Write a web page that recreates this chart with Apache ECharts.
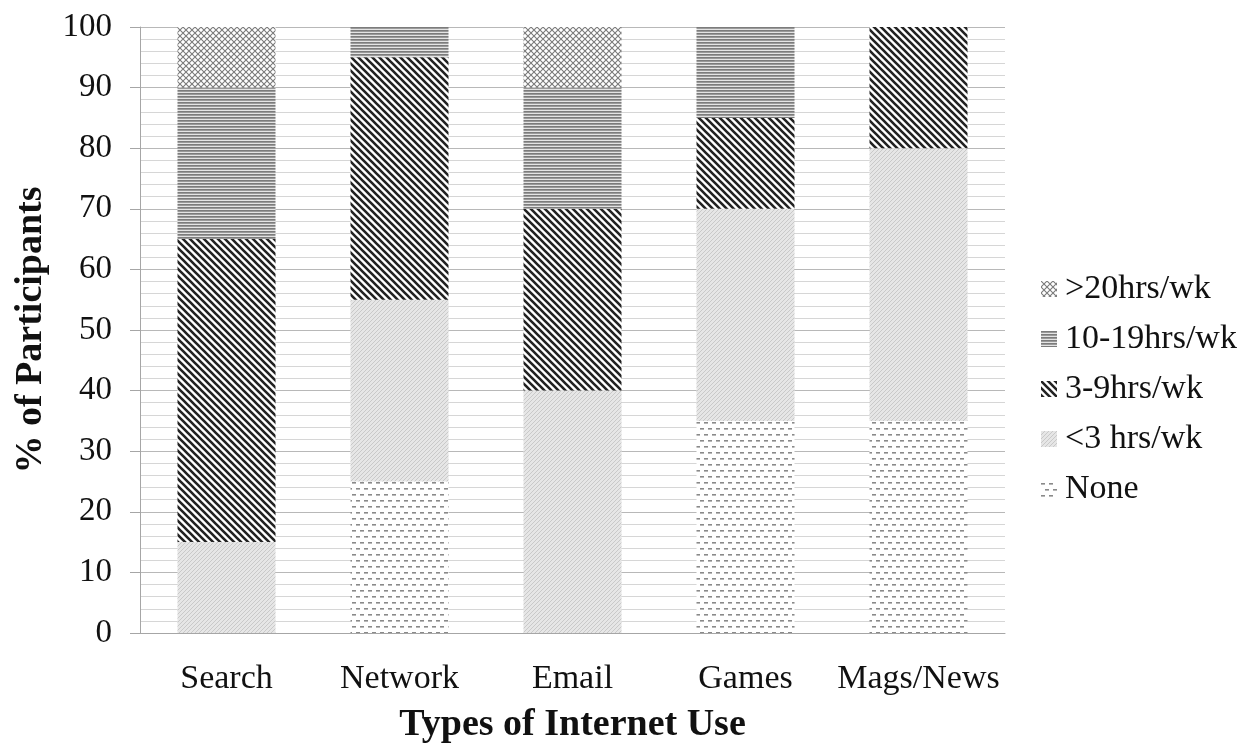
<!DOCTYPE html>
<html>
<head>
<meta charset="utf-8">
<script src="https://cdn.jsdelivr.net/npm/echarts@6/dist/echarts.min.js"></script>
<style>
html,body{margin:0;padding:0;background:#fff;}
#chart{width:1256px;height:747px;}
</style>
</head>
<body>
<div id="chart"></div>
<script>
// ---- data ----
const categories = ['Search', 'Network', 'Email', 'Games', 'Mags/News'];
const seriesNames = ['None', '<3 hrs/wk', '3-9hrs/wk', '10-19hrs/wk', '>20hrs/wk'];
const noneVals   = [0, 25, 0, 35, 35];
const lt3Vals    = [15, 30, 40, 35, 45];
const h3to9Vals  = [50, 40, 30, 15, 20];
const h10to19Vals= [25, 5, 20, 15, 0];
const gt20Vals   = [10, 0, 10, 0, 0];
const yTicks = [0, 10, 20, 30, 40, 50, 60, 70, 80, 90, 100];

// ---- patterns ----
function makeTile(w, h, draw) {
  const c = document.createElement('canvas');
  c.width = w; c.height = h;
  const ctx = c.getContext('2d');
  draw(ctx, w, h);
  return { image: c, repeat: 'repeat' };
}
const patGt20 = makeTile(6, 6, (ctx, w, h) => {
  ctx.fillStyle = '#ffffff'; ctx.fillRect(0, 0, w, h);
  ctx.strokeStyle = '#7a7a7a'; ctx.lineWidth = 1.1;
  ctx.beginPath();
  ctx.moveTo(0, 0); ctx.lineTo(w, h);
  ctx.moveTo(w, 0); ctx.lineTo(0, h);
  ctx.stroke();
});
const pat10to19 = makeTile(4, 3, (ctx, w, h) => {
  ctx.fillStyle = '#7c7c7c'; ctx.fillRect(0, 0, w, 1);
  ctx.fillStyle = '#9a9a9a'; ctx.fillRect(0, 1, w, 1);
  ctx.fillStyle = '#e4e4e4'; ctx.fillRect(0, 2, w, 1);
});
const pat3to9 = makeTile(7, 7, (ctx, w, h) => {
  ctx.fillStyle = '#ffffff'; ctx.fillRect(0, 0, w, h);
  ctx.strokeStyle = '#222222'; ctx.lineWidth = 2.6;
  ctx.beginPath();
  ctx.moveTo(-1, -1); ctx.lineTo(w + 1, h + 1);
  ctx.moveTo(-1, h - 1); ctx.lineTo(1, h + 1);
  ctx.moveTo(w - 1, -1); ctx.lineTo(w + 1, 1);
  ctx.stroke();
});
const patLt3 = makeTile(4, 4, (ctx, w, h) => {
  ctx.fillStyle = '#e6e6e6'; ctx.fillRect(0, 0, w, h);
  ctx.strokeStyle = '#c9c9c9'; ctx.lineWidth = 1;
  ctx.beginPath();
  ctx.moveTo(-1, h + 1); ctx.lineTo(w + 1, -1);
  ctx.stroke();
});
const patNone = makeTile(8, 12, (ctx, w, h) => {
  ctx.fillStyle = '#ffffff'; ctx.fillRect(0, 0, w, h);
  ctx.fillStyle = '#8a8a8a';
  ctx.fillRect(0, 2, 4, 1.6);
  ctx.fillRect(4, 8, 4, 1.6);
});
const patterns = [patNone, patLt3, pat3to9, pat10to19, patGt20];
const valueSets = [noneVals, lt3Vals, h3to9Vals, h10to19Vals, gt20Vals];

const FONT = "'Liberation Serif', 'Times New Roman', serif";

const chart = echarts.init(document.getElementById('chart'), null, { renderer: 'canvas' });
chart.setOption({
  animation: false,
  backgroundColor: '#ffffff',
  grid: { left: 140, right: 251, top: 27, bottom: 114, containLabel: false, outerBoundsMode: 'none' },
  legend: {
    orient: 'vertical',
    left: 1036,
    top: 267,
    itemWidth: 16,
    itemHeight: 16,
    itemGap: 16,
    icon: 'rect',
    data: seriesNames.slice().reverse(),
    textStyle: { fontFamily: FONT, fontSize: 34, color: '#111', lineHeight: 34, padding: [0, 0, 0, 3] }
  },
  xAxis: {
    type: 'category',
    data: categories,
    name: 'Types of Internet Use',
    nameLocation: 'middle',
    nameGap: 73,
    nameTextStyle: { fontFamily: FONT, fontSize: 38, fontWeight: 'bold', color: '#111' },
    axisLine: { show: true, lineStyle: { color: '#a6a6a6', width: 1 } },
    axisTick: { show: false },
    axisLabel: { fontFamily: FONT, fontSize: 34, color: '#111', margin: 29, interval: 0 }
  },
  yAxis: {
    type: 'value',
    min: 0, max: 100, interval: 10,
    name: '% of Participants',
    nameLocation: 'middle',
    nameGap: 90,
    nameRotate: 90,
    nameTextStyle: { fontFamily: FONT, fontSize: 38, fontWeight: 'bold', color: '#111' },
    axisLine: { show: true, lineStyle: { color: '#a6a6a6', width: 1 } },
    axisTick: { show: true, length: 10, lineStyle: { color: '#a6a6a6' } },
    axisLabel: {
      fontFamily: FONT, fontSize: 33, color: '#111', margin: 28,
      formatter: v => (yTicks.indexOf(v) >= 0 ? String(v) : '')
    },
    splitLine: { show: true, lineStyle: { color: '#b8b8b8', width: 1 } },
    minorTick: { show: false, splitNumber: 5 },
    minorSplitLine: { show: true, lineStyle: { color: '#d6d6d6', width: 1 } }
  },
  series: seriesNames.map((name, i) => ({
    name: name,
    type: 'bar',
    stack: 'total',
    barWidth: 98,
    data: valueSets[i],
    itemStyle: { color: patterns[i], borderWidth: 0 },
    emphasis: { disabled: true }
  }))
});
</script>
</body>
</html>
